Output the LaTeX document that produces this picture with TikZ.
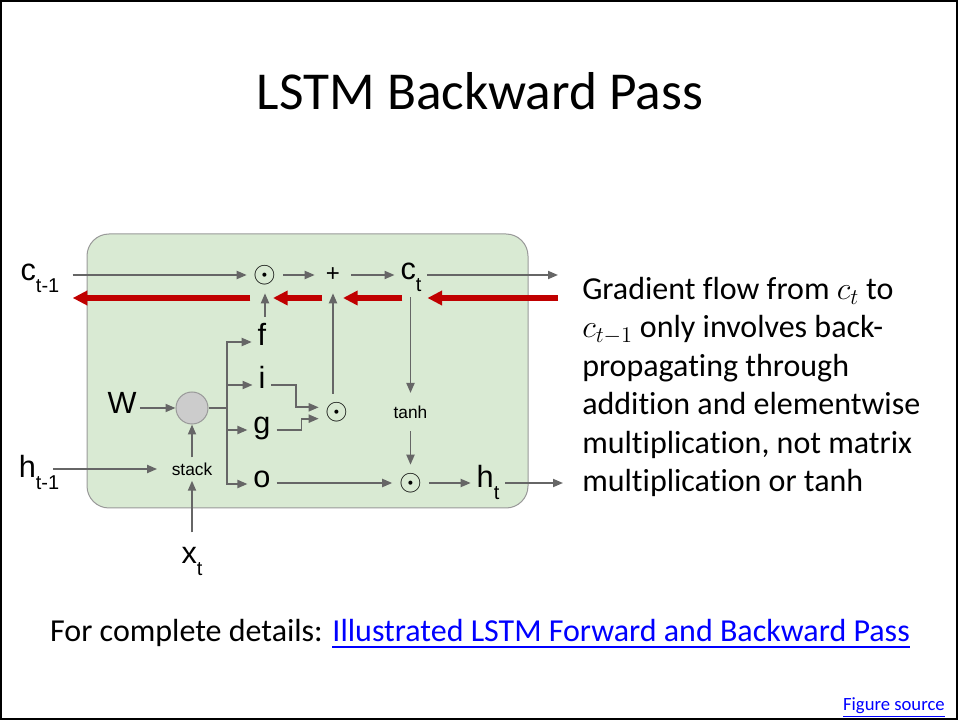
\documentclass[tikz,border=0pt]{standalone}
\usepackage{fix-cm}
\usepackage{amsmath}
\usepackage{fontspec}
\setmainfont{Carlito}[Ligatures={NoCommon}]
\newfontfamily\arialfont{Liberation Sans}
\usepackage{xcolor}
\usepackage{tikz}
\usetikzlibrary{
  arrows.meta,
  calc,
}
\definecolor{cellGreen}{HTML}{D9EAD3}
\definecolor{cellEdge}{HTML}{999999}
\definecolor{flowGray}{HTML}{666666}
\definecolor{gradRed}{HTML}{C00000}
\definecolor{mulGray}{HTML}{CCCCCC}
\definecolor{linkBlue}{HTML}{0000FF}
\newcommand{\lowsub}[2]{#1\raisebox{-9pt}{\fontsize{15}{15}\selectfont #2}}
\tikzset{
  cellbox/.style={
    rectangle, rounded corners=16.5pt, draw=cellEdge, line width=0.75pt,
    fill=cellGreen, minimum width=330.75pt, minimum height=205.5pt,
    inner sep=0pt,
  },
  lbl/.style={
    inner sep=0pt, outer sep=4.5pt, anchor=mid,
    font=\arialfont\fontsize{23}{23}\selectfont,
  },
  smallLbl/.style={
    inner sep=0pt, outer sep=4pt,
    font=\arialfont\fontsize{13}{13}\selectfont,
  },
  opnode/.style={
    circle, inner sep=0pt, minimum size=27pt, font=\fontsize{22}{22}\selectfont,
  },
  mulnode/.style={
    circle, draw=cellEdge, fill=mulGray, line width=0.75pt,
    minimum size=24pt, inner sep=0pt,
  },
  arrowGray/.style={
    -{Triangle[length=7.5pt,width=6pt]}, line width=1.4pt, draw=flowGray,
  },
  lineGray/.style={
    line width=1.4pt, draw=flowGray,
  },
  arrowRed/.style={
    -{Triangle[length=11pt,width=10.5pt]}, line width=4.5pt, draw=gradRed,
  },
  slideText/.style={
    inner sep=0pt, font=\fontsize{24}{28.8}\selectfont,
  },
}

\begin{document}
\begin{tikzpicture}[x=0.75pt, y=-0.75pt]
\useasboundingbox (0,0) rectangle (958,720);
\draw[line width=1.5pt] (1,1) rectangle (957,719);

\node[slideText, font=\fontsize{40}{40}\selectfont, anchor=base] (title) at (480,110) {LSTM Backward Pass};

\node[cellbox] (cell) at (307.5,371) {};

% cell state row
\node[lbl, outer sep=10pt] (ctm1) at (40,277) {\lowsub{c}{t-1}};
\node[opnode] (mulf) at (265,275) {$\odot$};
\node[opnode, font=\arialfont\fontsize{18}{18}\selectfont] (addc) at (333,275) {+};
\node[lbl] (ct) at (411,276) {\lowsub{c}{t}};
\coordinate (ctout) at (558,275);
\coordinate (gradin) at (558,298);

% gates
\node[lbl] (f) at (262,342) {f};
\node[lbl] (i) at (262,385) {i};
\node[lbl] (g) at (262,430) {g};
\node[lbl] (o) at (262,484) {o};

\node[lbl, outer sep=2.5pt] (w) at (122,410) {W};
\node[mulnode] (mm) at (192,408) {};
\coordinate (split) at (227,408);
\node[smallLbl] (stack) at (192,469) {stack};
\node[lbl, outer sep=3pt] (htm1) at (39,474) {\lowsub{h}{t-1}};
\node[lbl, outer sep=11pt] (xt) at (192,560) {\lowsub{x}{t}};

\node[opnode] (mig) at (337,412) {$\odot$};
\node[smallLbl, outer sep=9.5pt] (tanh) at (410.5,412) {tanh};
\node[opnode] (moh) at (410.5,483) {$\odot$};
\node[lbl] (ht) at (488,484) {\lowsub{h}{t}};
\coordinate (htout) at (563,483);

\draw[arrowGray] (ctm1.mid east |- mulf) -- (mulf);
\draw[arrowGray] (mulf) -- (addc);
\draw[arrowGray] (addc) -- (ct.mid west |- addc);
\draw[arrowGray] (ct.mid east |- addc) -- (ctout);

\draw[arrowGray] (w.mid east |- mm) -- (mm);
\draw[lineGray] (mm) -- (split);
\foreach \gate in {f,i,g,o}
  \draw[arrowGray] (split) |- (\gate.mid west);
\draw[arrowGray, shorten <=-7.5pt, shorten >=7pt] (htm1.mid east |- stack) -- (stack.west);
\draw[arrowGray] (xt.north) -- (stack.south);
\draw[arrowGray] (stack) -- (mm);

\draw[arrowGray] (mulf |- f.north) -- (mulf.south);
\draw[arrowGray] (i.mid east) -- ++(25,0) |- ([yshift=3.5pt]mig.west);
\draw[arrowGray] (g.mid east) -- ++(25,0) |- ([yshift=-5pt]mig.west);
\draw[arrowGray] (addc |- mig.north) -- (addc.south);
\draw[arrowGray] (ct.south -| tanh) -- (tanh.north);
\draw[arrowGray] (tanh) -- (moh);
\draw[arrowGray] (o.mid east |- moh) -- (moh);
\draw[arrowGray] (moh) -- (ht.mid west |- moh);
\draw[arrowGray] (ht.mid east |- htout) -- (htout);

% backward gradient
\draw[arrowRed] (gradin) -- (ct.mid east |- gradin);
\draw[arrowRed, shorten <=6.5pt, shorten >=7.5pt] (ct.south |- gradin) -- (addc |- gradin);
\draw[arrowRed, shorten <=8pt, shorten >=6pt] (addc |- gradin) -- (mulf |- gradin);
\draw[arrowRed, shorten <=11pt] (mulf |- gradin) -- (ctm1.mid east |- gradin);

\node[slideText, anchor=north west, align=left] (note) at (582,277) {%
  Gradient flow from $c_t$ to\\
  $c_{t-1}$ only involves back-\\
  propagating through\\
  addition and elementwise\\
  multiplication, not matrix\\
  multiplication or tanh};

\node[slideText, anchor=base] (details) at (480,642) {For complete details: \textcolor{linkBlue}{\underline{Illustrated LSTM Forward and Backward Pass}}};
\node[inner sep=0pt, anchor=base east, font=\fontsize{14}{14}\selectfont] (figsrc) at (945,710) {\textcolor{linkBlue}{\underline{Figure source}}};

\end{tikzpicture}
\end{document}
